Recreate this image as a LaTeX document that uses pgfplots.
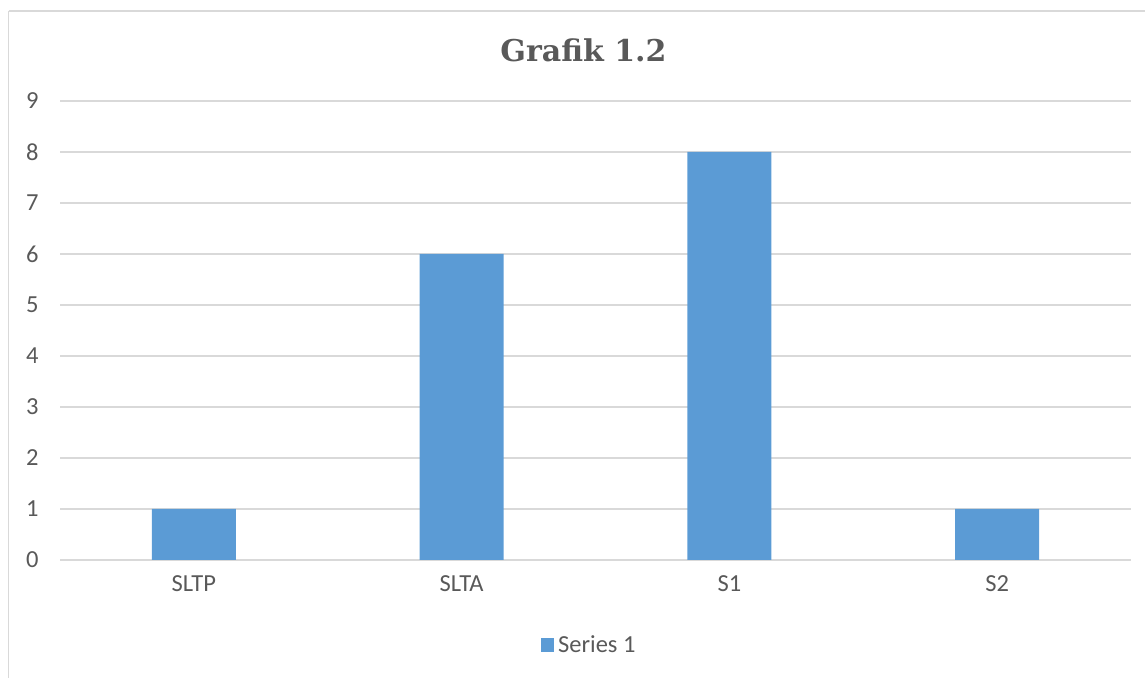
\documentclass[border=0pt]{standalone}
\usepackage{fontspec}
\setmainfont{Carlito}
\newfontfamily\titlefont{DejaVu Serif}
\usepackage{pgfplots}
\pgfplotsset{compat=1.18}
\definecolor{barblue}{HTML}{5B9BD5}
\definecolor{txtgray}{HTML}{595959}
\definecolor{gridgray}{HTML}{D9D9D9}
\begin{document}
\begin{tikzpicture}[x=1pt,y=1pt]
\useasboundingbox (0,0) rectangle (1145,677);
\draw[gridgray, line width=1.5pt] (8.5,666) -- (1160,666);
\draw[gridgray, line width=1.5pt] (8.5,666) -- (8.5,-10);
\node[text=txtgray, font=\titlefont\bfseries\fontsize{30}{35}\selectfont] at (583.5,627) {Grafik 1.2};
\begin{axis}[
  at={(60pt,117pt)}, anchor=south west,
  scale only axis, width=1071pt, height=459pt,
  xmin=-0.5, xmax=3.5, ymin=0, ymax=9,
  xtick={0,1,2,3}, xticklabels={SLTP,SLTA,S1,S2},
  ytick={0,1,...,9},
  ymajorgrids, grid style={gridgray, line width=1.2pt},
  axis line style={draw=none},
  major tick style={draw=none},
  /pgf/number format/assume math mode=true,
  tick label style={text=txtgray, font=\fontsize{24.5}{29}\selectfont},
  yticklabel style={xshift=-18pt},
  xticklabel style={yshift=-12pt},
  legend style={at={(0.494,-0.185)}, anchor=center, draw=none, fill=none,
    font=\fontsize{24.5}{29}\selectfont, text=txtgray},
  legend image code/.code={\fill[#1] (0pt,-6.7pt) rectangle (13.3pt,6.7pt); \path (15.5pt,0pt);},
]
\addplot[ybar, bar width=84pt, fill=barblue, draw=none] coordinates {(0,1) (1,6) (2,8) (3,1)};
\addlegendentry{Series 1}
\end{axis}
\end{tikzpicture}
\end{document}
